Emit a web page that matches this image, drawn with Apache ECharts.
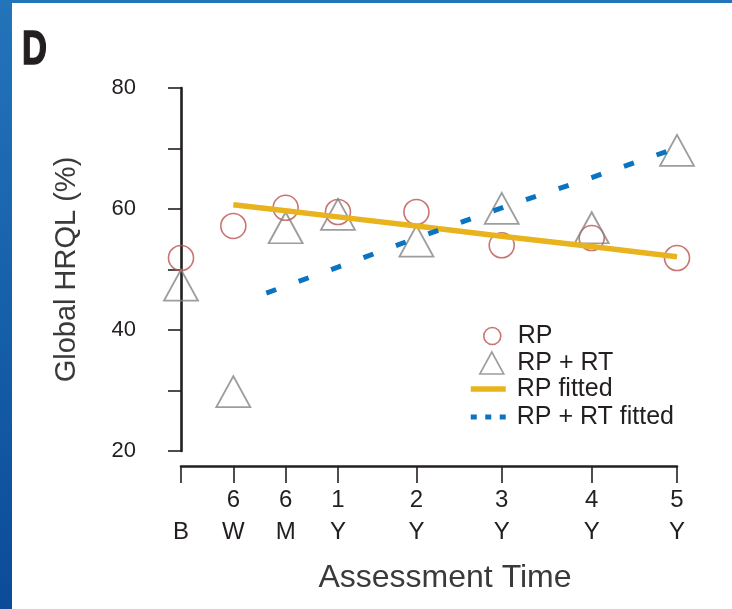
<!DOCTYPE html>
<html>
<head>
<meta charset="utf-8">
<script src="https://cdn.jsdelivr.net/npm/echarts@6/dist/echarts.min.js"></script>
<style>
html, body { margin: 0; padding: 0; width: 732px; height: 609px; overflow: hidden; }
body { position: relative; background: linear-gradient(to bottom, #2474ba 0%, #1660aa 50%, #0c4b97 100%); }
#panel { position: absolute; left: 12px; top: 3px; right: 0; bottom: 0; background: #ffffff; }
#chart { position: absolute; left: 0; top: 0; width: 732px; height: 609px; }
</style>
</head>
<body>
<div id="panel"></div>
<div id="chart"></div>
<script>
// Assessment times: upper / lower label rows and their positions along the time axis
const timeTop = ['', '6', '6', '1', '2', '3', '4', '5'];
const timeBottom = ['B', 'W', 'M', 'Y', 'Y', 'Y', 'Y', 'Y'];
const timeSlots = [0, 1, 2, 3, 4.5, 6.13, 7.85, 9.48];

// Observed global HRQL (%)
const rpValues = [51.9, 57.2, 60.2, 59.5, 59.5, 54.0, 55.2, 51.9];
const rpRtValues = [47.4, 29.8, 56.9, 59.1, 54.7, 60.1, 56.9, 69.7];

// Fitted trajectories
const rpFitX = [1, 2, 3, 4.5, 6.13, 7.85, 9.48];
const rpFitY = [60.7, 59.7, 58.7, 57.2, 55.5, 53.8, 52.1];
const rpRtFitX = [1.63, 3, 4.5, 6.13, 7.85, 9.48];
const rpRtFitY = [46.1, 50.4, 55.2, 60.2, 65.2, 70.1];

// Y-axis labelled ticks
const yLabelTicks = [20, 40, 60, 80];

const INK = '#231f20';
const RED = '#bb524d';
const GREY = '#858585';
const GOLD = '#e8b31c';
const BLUE = '#0a74c2';
const CLEAR = 'rgba(0,0,0,0)';
const FONT = '"Liberation Sans", Arial, sans-serif';

const pairs = (xs, ys) => xs.map((x, i) => [x, ys[i]]);

const legendText = { fontFamily: FONT, fontSize: 25, lineHeight: 25, color: INK };

const chart = echarts.init(document.getElementById('chart'), null, { renderer: 'canvas' });

chart.setOption({
  animation: false,
  backgroundColor: 'transparent',
  graphic: [{
    type: 'text',
    x: 22,
    y: 27,
    scaleX: 0.72,
    style: { text: 'D', font: 'bold 48px ' + FONT, fill: INK, stroke: INK, lineWidth: 1.6, verticalAlign: 'top' }
  }],
  grid: { left: 181, top: 88, width: 496, height: 363 },
  xAxis: {
    type: 'value',
    min: 0,
    max: timeSlots[timeSlots.length - 1],
    offset: 15,
    name: 'Assessment Time',
    nameLocation: 'middle',
    nameGap: 96,
    nameTextStyle: { fontFamily: FONT, fontSize: 32, color: '#3a3a3a', padding: [0, 0, 0, 32] },
    axisLine: { show: true, lineStyle: { color: INK, width: 2.6 } },
    axisTick: { show: true, customValues: timeSlots, length: 17, lineStyle: { color: INK, width: 1.6 } },
    axisLabel: {
      customValues: timeSlots,
      margin: 18,
      fontFamily: FONT,
      fontSize: 24,
      lineHeight: 32,
      color: INK,
      formatter: (v) => {
        const i = timeSlots.indexOf(v);
        return i < 0 ? '' : (timeTop[i] || ' ') + '\n' + timeBottom[i];
      }
    },
    splitLine: { show: false }
  },
  yAxis: {
    type: 'value',
    min: 20,
    max: 80,
    interval: 10,
    offset: 20,
    name: 'Global HRQL (%)',
    nameLocation: 'middle',
    nameGap: 80,
    nameTextStyle: { fontFamily: FONT, fontSize: 29, color: '#3a3a3a' },
    axisLine: { show: true, lineStyle: { color: INK, width: 2.6 } },
    axisTick: { show: true, length: 13, lineStyle: { color: INK, width: 1.6 } },
    axisLabel: {
      margin: 25,
      fontFamily: FONT,
      fontSize: 22,
      color: INK,
      formatter: (v) => (yLabelTicks.includes(v) ? String(v) : '')
    },
    splitLine: { show: false }
  },
  legend: [
    {
      orient: 'vertical', left: 483, top: 323.5, padding: 0,
      itemWidth: 41, itemHeight: 17,
      textStyle: legendText,
      data: [{ name: 'RP', icon: 'circle', itemStyle: { color: CLEAR, borderColor: RED, borderWidth: 1.6 } }]
    },
    {
      orient: 'vertical', left: 479, top: 350.5, padding: 0,
      itemWidth: 41, itemHeight: 22,
      textStyle: legendText,
      data: [{ name: 'RP + RT', icon: 'path://M12,0L24,22L0,22Z', itemStyle: { color: CLEAR, borderColor: GREY, borderWidth: 1.6 } }]
    },
    {
      orient: 'vertical', left: 468, top: 376.5, padding: 0,
      itemWidth: 35, itemHeight: 14, itemGap: 3,
      textStyle: Object.assign({ padding: [0, 0, 0, 6] }, legendText),
      data: [
        { name: 'RP fitted', itemStyle: { color: CLEAR, borderWidth: 0 }, lineStyle: { color: GOLD, width: 5.5 } },
        { name: 'RP + RT fitted', itemStyle: { color: CLEAR, borderWidth: 0 }, lineStyle: { color: BLUE, width: 5, type: [6, 8.5] } }
      ]
    }
  ],
  series: [
    {
      name: 'RP',
      type: 'scatter',
      symbol: 'circle',
      symbolSize: 25,
      itemStyle: { color: CLEAR, borderColor: RED, borderWidth: 1.6 },
      data: pairs(timeSlots, rpValues),
      z: 2
    },
    {
      name: 'RP + RT',
      type: 'scatter',
      symbol: 'triangle',
      symbolSize: [34, 31],
      itemStyle: { color: CLEAR, borderColor: GREY, borderWidth: 1.8 },
      data: pairs(timeSlots, rpRtValues),
      z: 2
    },
    {
      name: 'RP fitted',
      type: 'line',
      symbol: 'none',
      itemStyle: { color: CLEAR },
      lineStyle: { color: GOLD, width: 5.5 },
      data: pairs(rpFitX, rpFitY),
      z: 3
    },
    {
      name: 'RP + RT fitted',
      type: 'line',
      symbol: 'none',
      itemStyle: { color: CLEAR },
      lineStyle: { color: BLUE, width: 5, type: [10.5, 24], cap: 'butt' },
      data: pairs(rpRtFitX, rpRtFitY),
      z: 3
    }
  ]
});
</script>
</body>
</html>
